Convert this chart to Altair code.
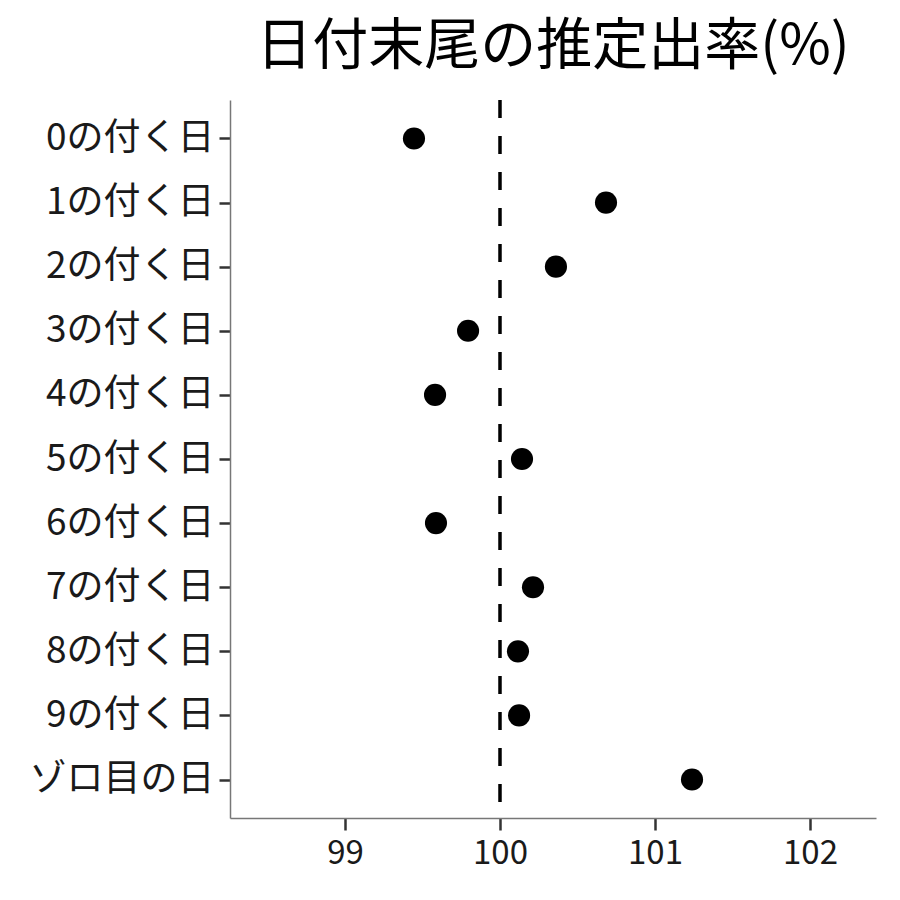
import altair as alt
import pandas as pd

categories = ["0の付く日", "1の付く日", "2の付く日", "3の付く日", "4の付く日",
              "5の付く日", "6の付く日", "7の付く日", "8の付く日", "9の付く日", "ゾロ目の日"]
values = [99.445, 100.684, 100.361, 99.794, 99.581, 100.142, 99.587, 100.213, 100.116, 100.123, 101.239]
x_ticks = [99, 100, 101, 102]
ref_value = [100]

df = pd.DataFrame({"cat": categories, "val": values})
ref = pd.DataFrame({"v": ref_value})

FONT = "Noto Sans CJK JP"

x_scale = alt.Scale(domain=[98.258, 102.426], nice=False, zero=False)

points = alt.Chart(df).mark_circle(size=490, color="black", opacity=1).encode(
    x=alt.X("val:Q", scale=x_scale,
            axis=alt.Axis(values=x_ticks, title=None, grid=False, labelFontSize=33,
                          labelFont=FONT, labelColor="#1a1a1a", domainColor="#777777",
                          tickColor="#333333", tickSize=12, tickWidth=2.5, domainWidth=1.5,
                          labelPadding=7, format="d")),
    y=alt.Y("cat:N", sort=categories, scale=alt.Scale(type="point", padding=0.6),
            axis=alt.Axis(title=None, grid=False, labelFontSize=37, labelFont=FONT,
                          labelColor="#1a1a1a", domainColor="#777777", tickColor="#333333",
                          tickSize=11, tickWidth=2.5, domainWidth=1.5, labelPadding=5,
                          labelLimit=400)),
)

rule = alt.Chart(ref).mark_rule(color="black", strokeWidth=3.5, strokeDash=[18, 18]).encode(
    x=alt.X("v:Q", scale=x_scale)
)

chart = (rule + points).properties(
    width=646,
    height=718,
    autosize=alt.AutoSizeParams(type="none"),
    padding={"left": 222, "top": 92, "right": 10, "bottom": 70},
    background="white",
    title=alt.Title("日付末尾の推定出率(%)", font=FONT, fontSize=56, fontWeight="normal",
                    color="black", offset=22, anchor="middle"),
).configure_view(stroke=None)

chart.save("out.html", embed_options={"renderer": "svg", "actions": False})
